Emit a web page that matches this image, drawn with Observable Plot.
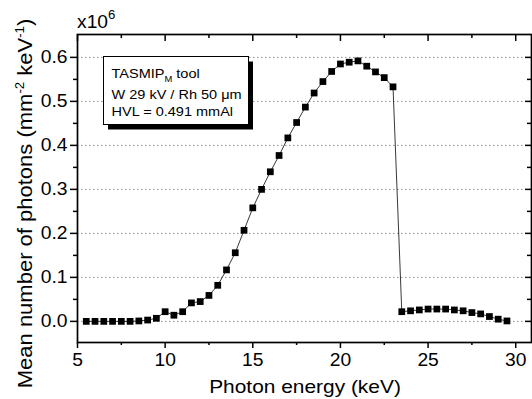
<!DOCTYPE html>
<html>
<head>
<meta charset="utf-8">
<script src="https://cdn.jsdelivr.net/npm/d3@7"></script>
<script src="https://cdn.jsdelivr.net/npm/@observablehq/plot@0.6"></script>
<style>
  html, body { margin: 0; padding: 0; background: white; }
  #chart { position: relative; width: 532px; height: 399px; }
</style>
</head>
<body>
<div id="chart"></div>
<script>
// Photon energy (keV)
const energy = [5.5, 6.0, 6.5, 7.0, 7.5, 8.0, 8.5, 9.0, 9.5,
  10.0, 10.5, 11.0, 11.5, 12.0, 12.5, 13.0, 13.5, 14.0, 14.5,
  15.0, 15.5, 16.0, 16.5, 17.0, 17.5, 18.0, 18.5, 19.0, 19.5,
  20.0, 20.5, 21.0, 21.5, 22.0, 22.5, 23.0, 23.5, 24.0, 24.5,
  25.0, 25.5, 26.0, 26.5, 27.0, 27.5, 28.0, 28.5, 29.0, 29.5];
// Mean number of photons (x10^6 mm^-2 keV^-1)
const photons = [0.000, 0.000, 0.000, 0.000, 0.000, 0.000, 0.001, 0.003, 0.007,
  0.022, 0.014, 0.022, 0.042, 0.045, 0.059, 0.082, 0.117, 0.156, 0.207,
  0.258, 0.300, 0.340, 0.377, 0.417, 0.452, 0.487, 0.519, 0.545, 0.568,
  0.585, 0.589, 0.592, 0.580, 0.567, 0.554, 0.533, 0.022, 0.024, 0.026,
  0.028, 0.028, 0.028, 0.026, 0.024, 0.020, 0.017, 0.011, 0.005, 0.001];

const xMajor = [5, 10, 15, 20, 25, 30];
const xMinor = [7.5, 12.5, 17.5, 22.5, 27.5];
const yMajor = [0.0, 0.1, 0.2, 0.3, 0.4, 0.5, 0.6];
const yMinor = [0.05, 0.15, 0.25, 0.35, 0.45, 0.55];
const xTickLabels = ["5", "10", "15", "20", "25", "30"];
const yTickLabels = ["0.0", "0.1", "0.2", "0.3", "0.4", "0.5", "0.6"];

const data = energy.map((e, i) => ({e, n: photons[i]}));

const W = 532, H = 399, mL = 77, mR = 1, mT = 34, mB = 57;
const fw = W - mL - mR, fh = H - mT - mB;

const svg = Plot.plot({
  width: W, height: H,
  marginLeft: mL, marginRight: mR, marginTop: mT, marginBottom: mB,
  x: {domain: [5, 30.9], axis: null},
  y: {domain: [-0.048, 0.652], axis: null},
  style: {fontFamily: "'Liberation Sans', Arial, sans-serif", fontSize: "17.5px", background: "white", color: "black"},
  marks: [
    Plot.ruleY(yMajor, {y: d => d, stroke: "#8a8a8a", strokeWidth: 1, strokeDasharray: "1.5,2.5"}),
    Plot.line(data, {x: "e", y: "n", stroke: "#222", strokeWidth: 0.9}),
    Plot.dot(data, {x: "e", y: "n", symbol: "square", r: 3.8, fill: "black"}),
    // bottom ticks (outward)
    Plot.ruleX(xMajor, {x: d => d, insetTop: fh, insetBottom: -6, stroke: "black", strokeWidth: 1.5}),
    Plot.ruleX(xMinor, {x: d => d, insetTop: fh, insetBottom: -3, stroke: "black", strokeWidth: 1.5}),
    // top ticks (inward)
    Plot.ruleX(xMajor, {x: d => d, insetBottom: fh - 7, stroke: "black", strokeWidth: 1.5}),
    Plot.ruleX(xMinor, {x: d => d, insetBottom: fh - 4, stroke: "black", strokeWidth: 1.5}),
    // left ticks (outward)
    Plot.ruleY(yMajor, {y: d => d, insetRight: fw, insetLeft: -7, stroke: "black", strokeWidth: 1.5}),
    Plot.ruleY(yMinor, {y: d => d, insetRight: fw, insetLeft: -4, stroke: "black", strokeWidth: 1.5}),
    // right ticks (inward)
    Plot.ruleY(yMajor, {y: d => d, insetLeft: fw - 6, stroke: "black", strokeWidth: 1.5}),
    Plot.ruleY(yMinor, {y: d => d, insetLeft: fw - 4, stroke: "black", strokeWidth: 1.5}),
    Plot.frame({stroke: "black", strokeWidth: 1.7}),
    Plot.text(xMajor, {x: d => d, text: (d, i) => xTickLabels[i], frameAnchor: "bottom", lineAnchor: "top", dy: 11, fill: "black"}),
    Plot.text(yMajor, {y: d => d, text: (d, i) => yTickLabels[i], frameAnchor: "left", textAnchor: "end", dx: -10, fill: "black"})
  ]
});
document.getElementById("chart").append(svg);

const s = d3.select(svg);
const ff = "'Liberation Sans', Arial, sans-serif";

// x10^6 multiplier
const m = s.append("text").attr("x", 77).attr("y", 28).attr("text-anchor", "start")
  .attr("font-family", ff).attr("font-size", 17.5).attr("fill", "black");
m.append("tspan").text("x10");
m.append("tspan").attr("dy", -9).attr("font-size", 12).text("6");

// x axis label
s.append("text").attr("x", 305).attr("y", 393).attr("text-anchor", "middle")
  .attr("font-family", ff).attr("font-size", 19).attr("fill", "black").text("Photon energy (keV)");

// y axis label
const yl = s.append("text").attr("transform", "translate(32,203.5) rotate(-90)").attr("text-anchor", "middle")
  .attr("font-family", ff).attr("font-size", 20).attr("fill", "black");
yl.append("tspan").text("Mean number of photons (mm");
yl.append("tspan").attr("dy", -8).attr("font-size", 12).text("-2");
yl.append("tspan").attr("dy", 8).text(" keV");
yl.append("tspan").attr("dy", -8).attr("font-size", 12).text("-1");
yl.append("tspan").attr("dy", 8).text(")");

// annotation box
const bx = 103.5, by = 56.5, bw = 145, bh = 68;
s.append("rect").attr("x", bx + 4.5).attr("y", by + 5).attr("width", bw).attr("height", bh).attr("fill", "black");
s.append("rect").attr("x", bx).attr("y", by).attr("width", bw).attr("height", bh).attr("fill", "white").attr("stroke", "black").attr("stroke-width", 1);
const l1 = s.append("text").attr("x", 111.5).attr("y", 77.5).attr("text-anchor", "start")
  .attr("font-family", ff).attr("font-size", 13.2).attr("fill", "black");
l1.append("tspan").text("TASMIP");
l1.append("tspan").attr("dy", 4).attr("font-size", 8.5).text("M");
l1.append("tspan").attr("dy", -4).text(" tool");
s.append("text").attr("x", 111.5).attr("y", 99.3).attr("text-anchor", "start")
  .attr("font-family", ff).attr("font-size", 13.2).attr("fill", "black").text("W 29 kV / Rh 50 \u03bcm");
s.append("text").attr("x", 111.5).attr("y", 115.7).attr("text-anchor", "start")
  .attr("font-family", ff).attr("font-size", 13.2).attr("fill", "black").text("HVL = 0.491 mmAl");

// slight horizontal stretch of all text to match the reference's wide glyphs
const K = 1.1;
svg.querySelectorAll("text").forEach(t => {
  const w = t.getComputedTextLength();
  if (w > 0) {
    t.setAttribute("textLength", (w * K).toFixed(1));
    t.setAttribute("lengthAdjust", "spacingAndGlyphs");
  }
});
</script>
</body>
</html>
